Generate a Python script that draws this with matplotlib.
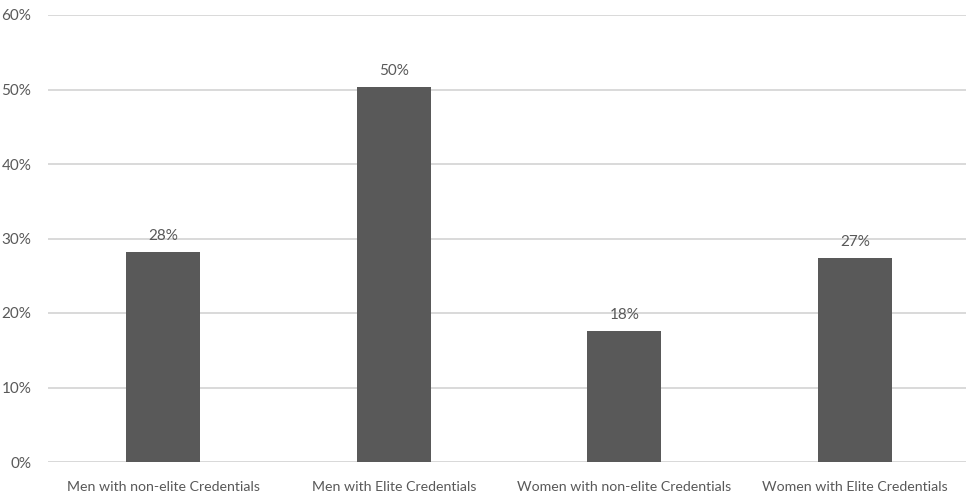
import matplotlib.pyplot as plt
from matplotlib.ticker import PercentFormatter

categories = ["Men with non-elite Credentials", "Men with Elite Credentials",
              "Women with non-elite Credentials", "Women with Elite Credentials"]
shares = [0.282, 0.504, 0.176, 0.274]

plt.rcParams['font.family'] = ['Lato', 'DejaVu Sans']
text_color = '#595959'

fig = plt.figure(figsize=(9.66, 5.0), dpi=100)
ax = fig.add_axes([48 / 966, 38 / 500, 922 / 966, 447 / 500])

x = range(len(categories))
ax.bar(x, shares, width=0.32, color='#595959', zorder=3)

for xi, v in zip(x, shares):
    ax.text(xi, v + 0.012, f"{v:.0%}", ha='center', va='bottom',
            fontsize=11, color=text_color)

ax.set_xlim(-0.5, len(categories) - 0.5)
ax.set_ylim(0, 0.6)
ax.set_yticks([0, 0.1, 0.2, 0.3, 0.4, 0.5, 0.6])
ax.yaxis.set_major_formatter(PercentFormatter(1.0, decimals=0))
ax.set_xticks(list(x))
ax.set_xticklabels(categories)

ax.grid(axis='y', color='#d9d9d9', linewidth=1.4, zorder=0)
ax.axhline(0, color='#d9d9d9', linewidth=1.4, zorder=2)
for s in ax.spines.values():
    s.set_visible(False)
ax.tick_params(axis='both', length=0, labelsize=11, colors=text_color)
ax.tick_params(axis='y', pad=12)
ax.tick_params(axis='x', pad=14, labelsize=10.2)

fig.savefig('out.png', dpi=100)
